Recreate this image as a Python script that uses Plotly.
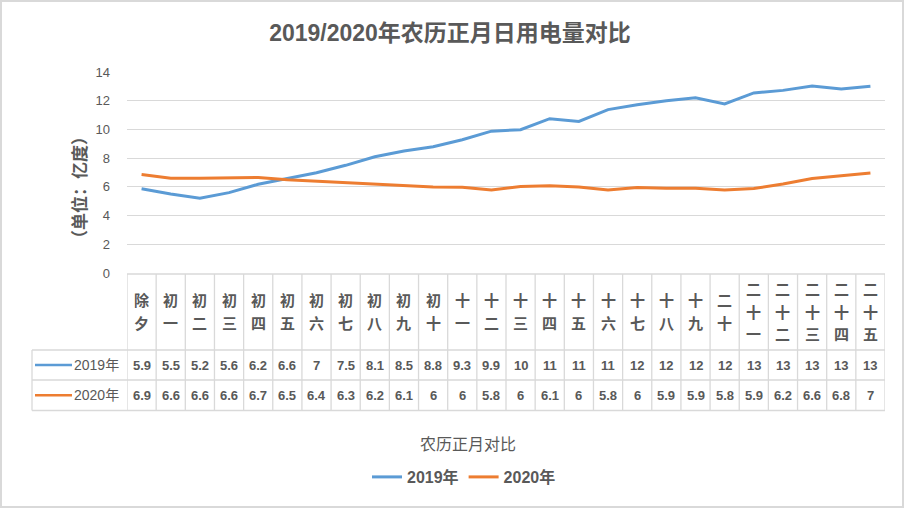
import plotly.graph_objects as go

categories = ["除夕","初一","初二","初三","初四","初五","初六","初七","初八","初九","初十",
              "十一","十二","十三","十四","十五","十六","十七","十八","十九","二十",
              "二十一","二十二","二十三","二十四","二十五"]
y2019 = [5.87, 5.5, 5.2, 5.6, 6.18, 6.58, 6.98, 7.5, 8.1, 8.5, 8.8, 9.28, 9.88, 9.98,
         10.75, 10.56, 11.38, 11.72, 12.0, 12.2, 11.77, 12.54, 12.72, 13.02, 12.82, 13.0]
y2020 = [6.86, 6.6, 6.6, 6.62, 6.66, 6.5, 6.4, 6.3, 6.2, 6.1, 5.99, 5.98, 5.78, 6.02,
         6.08, 5.99, 5.78, 5.96, 5.9, 5.9, 5.78, 5.88, 6.2, 6.58, 6.78, 6.96]
series_names = ["2019年", "2020年"]
yticks = [0, 2, 4, 6, 8, 10, 12, 14]

BLUE = "#5B9BD5"
ORANGE = "#ED7D31"
TXT = "#595959"
GRID = "#D9D9D9"
FONT = "Liberation Sans, Noto Sans CJK SC, sans-serif"

W, H = 905, 509
L, R, T, B = 127, 20, 72, 236
PW, PH = W - L - R, H - T - B


def px_x(x):
    return (x - L) / PW


def px_y(y):
    return (H - B - y) / PH


idx = list(range(len(categories)))
fig = go.Figure()
for name, vals, col in [(series_names[0], y2019, BLUE), (series_names[1], y2020, ORANGE)]:
    fig.add_trace(go.Scatter(x=idx, y=vals, mode="lines", name=name,
                             line=dict(color=col, width=3)))

shapes = []
annotations = []

# chart border
shapes.append(dict(type="rect", xref="paper", yref="paper",
                   x0=px_x(1), x1=px_x(903), y0=px_y(1), y1=px_y(507),
                   line=dict(color=GRID, width=2), layer="below"))

# data table
t_top, t_h1, t_h2, t_bot = 274, 350, 380, 410.5
t_left = 32
n = len(categories)
shapes.append(dict(type="line", xref="x", yref="paper", x0=-0.5, x1=n - 0.5,
                   y0=px_y(t_top), y1=px_y(t_top), line=dict(color=GRID, width=1.3)))
for yy in [t_h1, t_h2, t_bot]:
    shapes.append(dict(type="line", xref="paper", yref="paper", x0=px_x(t_left), x1=1,
                       y0=px_y(yy), y1=px_y(yy), line=dict(color=GRID, width=1.3)))
shapes.append(dict(type="line", xref="paper", yref="paper", x0=px_x(t_left), x1=px_x(t_left),
                   y0=px_y(t_h1), y1=px_y(t_bot), line=dict(color=GRID, width=1.3)))
for i in range(n + 1):
    shapes.append(dict(type="line", xref="x", yref="paper", x0=i - 0.5, x1=i - 0.5,
                       y0=px_y(t_top), y1=px_y(t_bot), line=dict(color=GRID, width=1.3)))

# header labels (vertical characters)
hc = (t_top + t_h1) / 2
sp = 22.5
for i, c in enumerate(categories):
    k = len(c)
    for j, ch in enumerate(c):
        yc = hc + (j - (k - 1) / 2) * sp
        annotations.append(dict(x=i, xref="x", y=px_y(yc), yref="paper", text=ch,
                                showarrow=False, xanchor="center", yanchor="middle",
                                font=dict(family=FONT, size=15, color=TXT, weight="bold")))

# values rows
rows = [((t_h1 + t_h2) / 2, y2019, BLUE, series_names[0]),
        ((t_h2 + t_bot) / 2, y2020, ORANGE, series_names[1])]
for yc, vals, col, name in rows:
    for i, v in enumerate(vals):
        annotations.append(dict(x=i, xref="x", y=px_y(yc), yref="paper", text=f"{v:.2g}",
                                showarrow=False, xanchor="center", yanchor="middle",
                                font=dict(family=FONT, size=13, color=TXT, weight="bold")))
    shapes.append(dict(type="line", xref="paper", yref="paper", x0=px_x(35), x1=px_x(72),
                       y0=px_y(yc), y1=px_y(yc), line=dict(color=col, width=2.5)))
    annotations.append(dict(x=px_x(72), xref="paper", y=px_y(yc), yref="paper", text=name,
                            showarrow=False, xanchor="left", yanchor="middle",
                            font=dict(family=FONT, size=14, color=TXT)))

# axis titles
annotations.append(dict(x=px_x(80), xref="paper", y=px_y(188), yref="paper",
                        text="（单位：亿度）", textangle=-90, showarrow=False,
                        xanchor="center", yanchor="middle",
                        font=dict(family=FONT, size=17, color=TXT, weight="bold")))
annotations.append(dict(x=px_x(468), xref="paper", y=px_y(444), yref="paper",
                        text="农历正月对比", showarrow=False,
                        xanchor="center", yanchor="middle",
                        font=dict(family=FONT, size=16, color=TXT)))

fig.update_layout(
    width=W, height=H,
    margin=dict(l=L, r=R, t=T, b=B, autoexpand=False),
    paper_bgcolor="white", plot_bgcolor="white",
    title=dict(text="2019/2020年农历正月日用电量对比", x=450 / W, y=1 - 33 / H,
               xanchor="center", yanchor="middle",
               font=dict(family=FONT, size=23, color=TXT, weight="bold")),
    xaxis=dict(range=[-0.5, n - 0.5], showticklabels=False, showgrid=False,
               zeroline=False, showline=False, ticks=""),
    yaxis=dict(range=[0, 14], tickvals=yticks, showgrid=True, gridcolor=GRID, gridwidth=1.3,
               zeroline=False, showline=False, ticks="", ticklabelstandoff=16,
               tickfont=dict(family=FONT, size=13, color=TXT)),
    showlegend=True,
    legend=dict(orientation="h", x=px_x(464), xanchor="center", y=px_y(477), yanchor="middle",
                font=dict(family=FONT, size=16, color=TXT, weight="bold"),
                bgcolor="rgba(0,0,0,0)"),
    shapes=shapes,
    annotations=annotations,
)

fig.write_html(
    "out.html",
    config={"displayModeBar": False},
    post_script="document.body.style.margin='0';document.body.style.padding='0';"
                "document.body.style.overflow='hidden';",
)
